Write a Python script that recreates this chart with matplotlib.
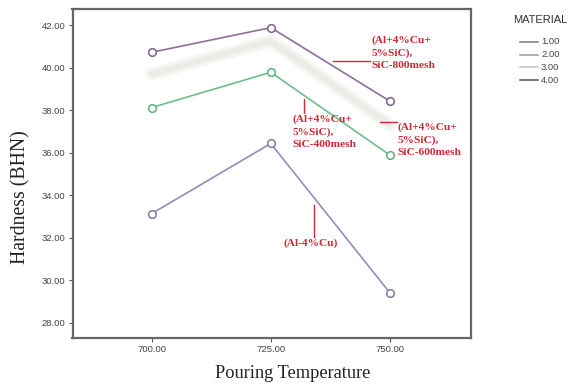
import matplotlib
matplotlib.use("Agg")
import matplotlib.pyplot as plt
from matplotlib.lines import Line2D

# data
suhu = [700, 725, 750]
al_cu = [33.13, 36.43, 29.40]          # (Al-4%Cu)
sic_400 = [38.12, 39.78, 35.88]        # SiC-400mesh
sic_600 = [39.70, 41.25, 37.30]        # SiC-600mesh (garis pucat)
sic_800 = [40.72, 41.88, 38.42]        # SiC-800mesh
legend_labels = ["1.00", "2.00", "3.00", "4.00"]
legend_colors = ["#7a7a7a", "#9a9a9a", "#c4c4c4", "#555555"]

W, H = 573, 389
fig = plt.figure(figsize=(W / 100, H / 100), dpi=100)
ax = fig.add_axes([72.5 / W, 1 - 338 / H, (471 - 72.5) / W, (338 - 8.5) / H])
ax.set_xlim(683.4, 767)
ax.set_ylim(27.28, 42.78)


def px(x, y):
    # piksel gambar -> koordinat data
    return 700 + (x - 151.7) / 4.77, 42 - (y - 25) / 21.26


# garis data
ax.plot(suhu, sic_600, color="#f4f6f2", lw=9, solid_capstyle="round", zorder=0)
ax.plot(suhu, sic_600, color="#eaede5", lw=4.5, solid_capstyle="round", zorder=1)
ax.plot(suhu, al_cu, color="#8f8fb8", lw=1.2, marker="o", ms=5.5, mfc="white", mec="#7d7daa", mew=1.1)
ax.plot(suhu, sic_400, color="#6cbf8c", lw=1.2, marker="o", ms=5.5, mfc="white", mec="#5cb07c", mew=1.1)
ax.plot(suhu, sic_800, color="#8f6e9c", lw=1.2, marker="o", ms=5.5, mfc="white", mec="#7e6190", mew=1.1)

# label merah
merah = "#cc2a35"
tfont = dict(family="Liberation Serif", weight="bold", size=8.2, color=merah, linespacing=1.45)


def garis(p1, p2):
    a, b = px(*p1), px(*p2)
    ax.plot([a[0], b[0]], [a[1], b[1]], color=merah, lw=1)


garis((333, 61), (370, 61))
ax.text(*px(372, 35), "(Al+4%Cu+\n5%SiC),\nSiC-800mesh", va="top", ha="left", **tfont)
garis((304, 99), (304, 113))
ax.text(*px(293, 114), "(Al+4%Cu+\n5%SiC),\nSiC-400mesh", va="top", ha="left", **tfont)
garis((380, 122), (397, 122))
ax.text(*px(398, 122), "(Al+4%Cu+\n5%SiC),\nSiC-600mesh", va="top", ha="left", **tfont)
garis((314, 205), (314, 237))
ax.text(*px(311, 243), "(Al-4%Cu)", va="center", ha="center", **tfont)

# sumbu
ax.set_xticks(suhu)
ax.set_xticklabels(["700.00", "725.00", "750.00"])
ax.set_yticks(range(28, 43, 2))
ax.set_yticklabels(["%.2f" % v for v in range(28, 43, 2)])
ax.tick_params(direction="out", length=3, width=0.8, color="#555555",
               labelsize=6.8, labelcolor="#444444", pad=2)
for lbl in ax.get_xticklabels() + ax.get_yticklabels():
    lbl.set_family("Liberation Sans")
for s in ax.spines.values():
    s.set_color("#666666")
    s.set_linewidth(1.6)

fig.text(21 / W, 1 - 197 / H, "Hardness (BHN)", rotation=90, ha="center", va="center",
         family="Liberation Serif", size=14.2, color="#222222")
fig.text(293 / W, 1 - 374 / H, "Pouring Temperature", ha="center", va="center",
         family="Liberation Serif", size=13.2, color="#222222")

# legenda (digambar manual di koordinat figure)
fig.text(513 / W, 1 - 20 / H, "MATERIAL", ha="left", va="center",
         family="Liberation Sans", size=8, color="#333333")
for i, (lab, c) in enumerate(zip(legend_labels, legend_colors)):
    yy = 1 - (42 + i * 12.7) / H
    fig.add_artist(Line2D([520 / W, 538 / W], [yy, yy], color=c, lw=1.1))
    fig.text(541 / W, yy, lab, ha="left", va="center",
             family="Liberation Sans", size=6.8, color="#444444")

fig.savefig("out.png", dpi=100)
